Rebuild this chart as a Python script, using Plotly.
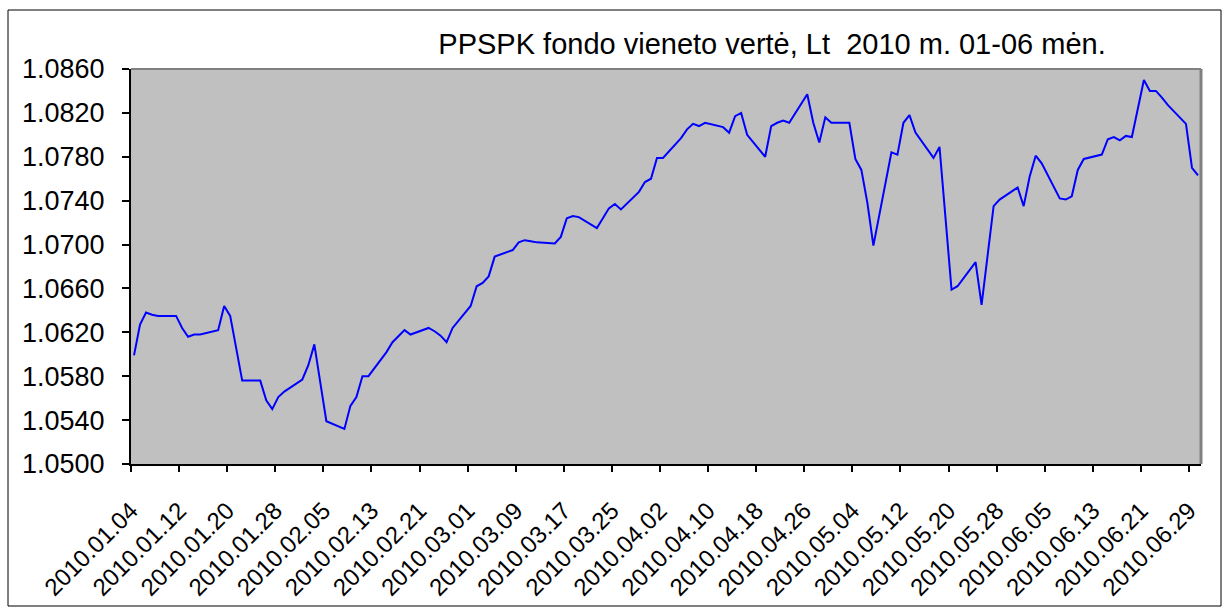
import pandas as pd
import plotly.graph_objects as go

TITLE = "PPSPK fondo vieneto vertė, Lt  2010 m. 01-06 mėn."

dates = [
    "2010-01-04", "2010-01-05", "2010-01-06", "2010-01-07", "2010-01-08",
    "2010-01-11", "2010-01-12", "2010-01-13", "2010-01-14", "2010-01-15",
    "2010-01-18", "2010-01-19", "2010-01-20", "2010-01-21", "2010-01-22",
    "2010-01-25", "2010-01-26", "2010-01-27", "2010-01-28", "2010-01-29",
    "2010-02-01", "2010-02-02", "2010-02-03", "2010-02-04", "2010-02-05",
    "2010-02-08", "2010-02-09", "2010-02-10", "2010-02-11", "2010-02-12",
    "2010-02-15", "2010-02-16", "2010-02-17", "2010-02-18", "2010-02-19",
    "2010-02-22", "2010-02-23", "2010-02-24", "2010-02-25", "2010-02-26",
    "2010-03-01", "2010-03-02", "2010-03-03", "2010-03-04", "2010-03-05",
    "2010-03-08", "2010-03-09", "2010-03-10", "2010-03-11", "2010-03-12",
    "2010-03-15", "2010-03-16", "2010-03-17", "2010-03-18", "2010-03-19",
    "2010-03-22", "2010-03-23", "2010-03-24", "2010-03-25", "2010-03-26",
    "2010-03-29", "2010-03-30", "2010-03-31", "2010-04-01", "2010-04-02",
    "2010-04-05", "2010-04-06", "2010-04-07", "2010-04-08", "2010-04-09",
    "2010-04-12", "2010-04-13", "2010-04-14", "2010-04-15", "2010-04-16",
    "2010-04-19", "2010-04-20", "2010-04-21", "2010-04-22", "2010-04-23",
    "2010-04-26", "2010-04-27", "2010-04-28", "2010-04-29", "2010-04-30",
    "2010-05-03", "2010-05-04", "2010-05-05", "2010-05-06", "2010-05-07",
    "2010-05-10", "2010-05-11", "2010-05-12", "2010-05-13", "2010-05-14",
    "2010-05-17", "2010-05-18", "2010-05-19", "2010-05-20", "2010-05-21",
    "2010-05-24", "2010-05-25", "2010-05-26", "2010-05-27", "2010-05-28",
    "2010-05-31", "2010-06-01", "2010-06-02", "2010-06-03", "2010-06-04",
    "2010-06-07", "2010-06-08", "2010-06-09", "2010-06-10", "2010-06-11",
    "2010-06-14", "2010-06-15", "2010-06-16", "2010-06-17", "2010-06-18",
    "2010-06-19", "2010-06-21", "2010-06-22", "2010-06-23", "2010-06-24",
    "2010-06-25", "2010-06-28", "2010-06-29", "2010-06-30",
]

values = [
    1.0599, 1.0627, 1.0638, 1.0636, 1.0635,
    1.0635, 1.0624, 1.0616, 1.0618, 1.0618,
    1.0622, 1.0644, 1.0635, 1.0607, 1.0576,
    1.0576, 1.0558, 1.0550, 1.0561, 1.0566,
    1.0577, 1.0590, 1.0609, 1.0574, 1.0539,
    1.0532, 1.0553, 1.0561, 1.0580, 1.0580,
    1.0602, 1.0611, 1.0617, 1.0622, 1.0618,
    1.0624, 1.0621, 1.0617, 1.0611, 1.0624,
    1.0644, 1.0662, 1.0665, 1.0671, 1.0689,
    1.0695, 1.0702, 1.0704, 1.0703, 1.0702,
    1.0701, 1.0707, 1.0724, 1.0726, 1.0725,
    1.0715, 1.0724, 1.0733, 1.0737, 1.0732,
    1.0748, 1.0757, 1.0760, 1.0779, 1.0779,
    1.0797, 1.0805, 1.0810, 1.0808, 1.0811,
    1.0807, 1.0802, 1.0817, 1.0820, 1.0800,
    1.0780, 1.0808, 1.0811, 1.0813, 1.0811,
    1.0837, 1.0811, 1.0793, 1.0816, 1.0811,
    1.0811, 1.0778, 1.0768, 1.0738, 1.0699,
    1.0784, 1.0782, 1.0811, 1.0818, 1.0802,
    1.0779, 1.0789, 1.0724, 1.0659, 1.0662,
    1.0684, 1.0645, 1.0690, 1.0735, 1.0741,
    1.0752, 1.0735, 1.0762, 1.0781, 1.0774,
    1.0742, 1.0741, 1.0744, 1.0768, 1.0778,
    1.0782, 1.0796, 1.0798, 1.0795, 1.0799,
    1.0798, 1.0850, 1.0840, 1.0840, 1.0834,
    1.0827, 1.0810, 1.0770, 1.0763,
]

tick_dates = [
    "2010-01-04", "2010-01-12", "2010-01-20", "2010-01-28", "2010-02-05",
    "2010-02-13", "2010-02-21", "2010-03-01", "2010-03-09", "2010-03-17",
    "2010-03-25", "2010-04-02", "2010-04-10", "2010-04-18", "2010-04-26",
    "2010-05-04", "2010-05-12", "2010-05-20", "2010-05-28", "2010-06-05",
    "2010-06-13", "2010-06-21", "2010-06-29",
]
tick_labels = [d.replace("-", ".") for d in tick_dates]

y_ticks = [1.0500, 1.0540, 1.0580, 1.0620, 1.0660, 1.0700, 1.0740, 1.0780, 1.0820, 1.0860]

# each day occupies one slot; points sit in the middle of their day
x_pts = pd.to_datetime(dates) + pd.Timedelta(hours=12)

FONT = "Liberation Sans, Arial, sans-serif"

fig = go.Figure()
fig.add_trace(go.Scatter(
    x=x_pts, y=values, mode="lines",
    line=dict(color="#0000FF", width=2),
    showlegend=False, hoverinfo="x+y",
))

W, H = 1222, 607
L, R, T, B = 131, 21, 69, 143
pw, ph = W - L - R, H - T - B

def px_x(p):
    return (p - L) / pw

def px_y(p):
    return (H - B - p) / ph

fig.update_layout(
    width=W, height=H,
    margin=dict(l=L, r=R, t=T, b=B, autoexpand=False),
    paper_bgcolor="white",
    plot_bgcolor="#C0C0C0",
    font=dict(family=FONT, size=25, color="black"),
    title=dict(
        text=TITLE, xref="paper", x=px_x(772), xanchor="center",
        yref="container", y=1 - 44 / H, yanchor="middle",
        font=dict(family=FONT, size=29, color="black"),
    ),
    xaxis=dict(
        type="date",
        automargin=False,
        range=["2010-01-04", "2010-07-01"],
        tickvals=pd.to_datetime(tick_dates),
        ticktext=tick_labels,
        tickangle=-45,
        ticks="outside", ticklen=6, tickwidth=2, tickcolor="black",
        showline=True, linecolor="black", linewidth=2,
        showgrid=False, zeroline=False,
        tickfont=dict(family=FONT, size=24, color="black"),
        ticklabelstandoff=15,
    ),
    yaxis=dict(
        automargin=False,
        range=[1.05, 1.086],
        tickvals=y_ticks,
        tickformat=".4f",
        ticks="outside", ticklen=7, tickwidth=2, tickcolor="black",
        showline=True, linecolor="black", linewidth=2,
        showgrid=False, zeroline=False,
        tickfont=dict(family=FONT, size=27, color="black"),
        ticklabelstandoff=12,
    ),
    shapes=[
        dict(type="line", xref="paper", yref="paper", x0=0, x1=1, y0=1, y1=1,
             line=dict(color="#808080", width=2), layer="above"),
        dict(type="line", xref="paper", yref="paper", x0=1, x1=1, y0=0, y1=1,
             line=dict(color="#808080", width=3), layer="above"),
        dict(type="rect", xref="paper", yref="paper",
             x0=px_x(8), x1=px_x(1221), y0=px_y(606), y1=px_y(10),
             line=dict(color="black", width=1), fillcolor="rgba(0,0,0,0)",
             layer="below"),
    ],
)

fig.write_html(
    "out.html",
    config={"displayModeBar": False},
    post_script="document.body.style.margin='0';document.body.style.overflow='hidden';",
)
